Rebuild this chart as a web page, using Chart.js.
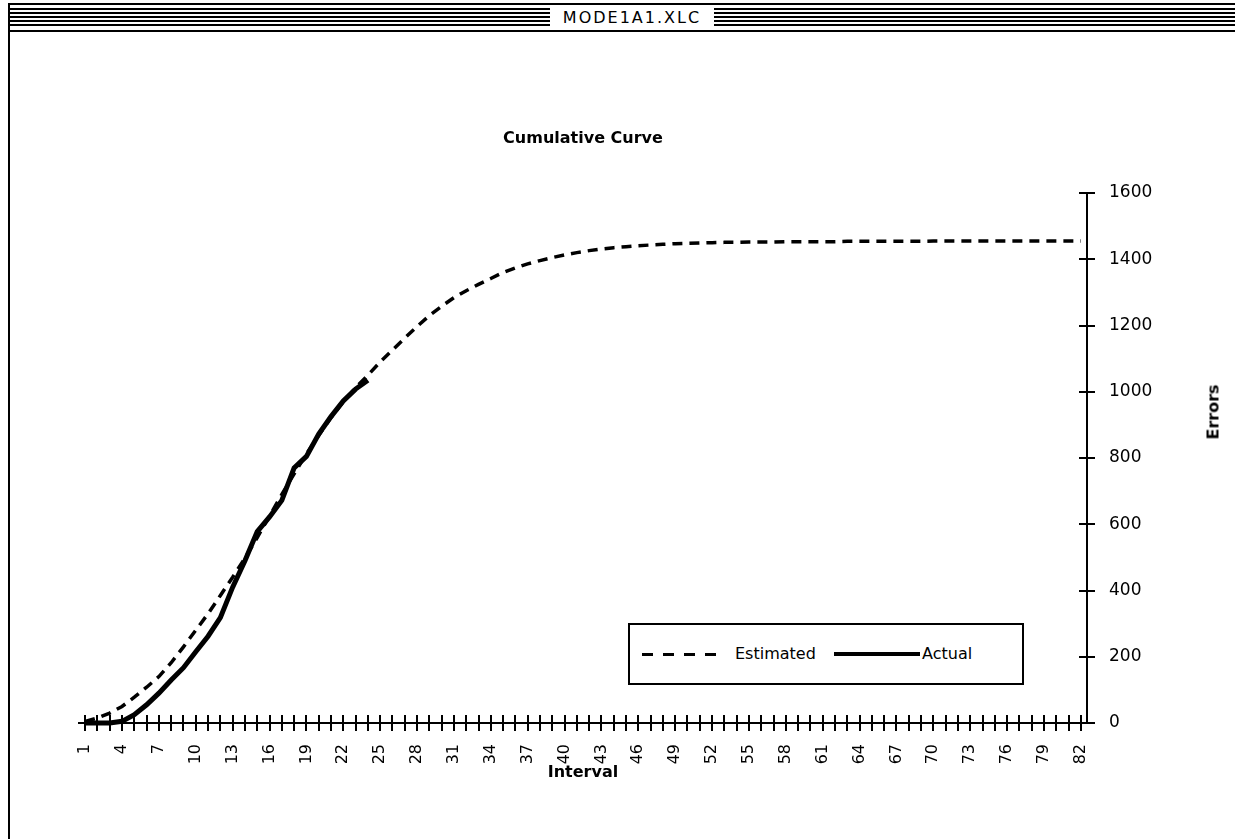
<!DOCTYPE html>
<html>
<head>
<meta charset="utf-8">
<title>MODE1A1.XLC</title>
<script src="https://cdn.jsdelivr.net/npm/chart.js@4.4.0/dist/chart.umd.min.js"></script>
<style>
body { margin:0; width:1235px; height:839px; overflow:hidden; background:#fff; position:relative; font-family:"DejaVu Sans", sans-serif; color:#000; }
#frame { position:absolute; left:8px; top:3px; width:1240px; height:840px; border-left:2px solid #000; border-top:2px solid #000; }
#bar { position:absolute; left:10px; top:8px; width:1225px; height:20px; background:repeating-linear-gradient(to bottom, #000 0, #000 2px, #fff 2px, #fff 4px); }
#barline { position:absolute; left:10px; top:30px; width:1225px; height:2px; background:#000; }
#wintitle { position:absolute; left:550px; top:5px; width:164px; height:25px; background:#fff; text-align:center; line-height:25px; font-size:16px; letter-spacing:2px; }
#chart { position:absolute; left:0; top:0; }
#title { position:absolute; left:383px; width:400px; top:128px; text-align:center; font-weight:bold; font-size:16px; }
#ytitle { position:absolute; left:1213px; top:412px; transform:translate(-50%,-50%) rotate(-90deg); font-weight:bold; font-size:16px; }
#legend { position:absolute; left:628px; top:623px; width:392px; height:58px; border:2px solid #000; background:#fff; font-size:16px; }
#legend .dash { position:absolute; left:12px; top:28px; width:74px; height:3px; background:repeating-linear-gradient(to right, #000 0, #000 11px, #fff 11px, #fff 21px); }
#legend .solid { position:absolute; left:204px; top:27px; width:86px; height:4px; background:#000; }
#legend .t1 { position:absolute; left:105px; top:19px; }
#legend .t2 { position:absolute; left:292px; top:19px; }
</style>
</head>
<body>
<div id="frame"></div>
<div id="bar"></div>
<div id="barline"></div>
<div id="wintitle">MODE1A1.XLC</div>
<canvas id="chart" width="1235" height="839"></canvas>
<div id="title">Cumulative Curve</div>
<div id="ytitle">Errors</div>
<div id="legend">
  <div class="dash"></div><span class="t1">Estimated</span>
  <div class="solid"></div><span class="t2">Actual</span>
</div>
<script>
// categories (interval numbers)
const intervals = ['1','2','3','4','5','6','7','8','9','10','11','12','13','14','15','16','17','18','19','20',
  '21','22','23','24','25','26','27','28','29','30','31','32','33','34','35','36','37','38','39','40',
  '41','42','43','44','45','46','47','48','49','50','51','52','53','54','55','56','57','58','59','60',
  '61','62','63','64','65','66','67','68','69','70','71','72','73','74','75','76','77','78','79','80',
  '81','82'];

// labels that are printed under the axis
const shownLabels = ['1','4','7','10','13','16','19','22','25','28','31','34','37','40','43','46','49','52',
  '55','58','61','64','67','70','73','76','79','82'];

const errorTicks = [0, 200, 400, 600, 800, 1000, 1200, 1400, 1600];

const estimated = [5, 15, 30, 50, 78, 108, 140, 182, 230, 280, 330, 385, 440, 498, 560, 625, 690, 752, 812, 868,
  922, 970, 1012, 1050, 1090, 1126, 1162, 1197, 1230, 1258, 1284, 1305, 1324, 1342, 1360, 1374, 1386, 1396, 1405, 1413,
  1420, 1426, 1431, 1435, 1438, 1441, 1443, 1445, 1447, 1448, 1449, 1450, 1451, 1451, 1452, 1452, 1452, 1453, 1453, 1453,
  1453, 1453, 1454, 1454, 1454, 1454, 1454, 1454, 1454, 1455, 1455, 1455, 1455, 1455, 1455, 1455, 1455, 1455, 1455, 1455,
  1455, 1455];

const actual = [0, 0, 0, 5, 25, 55, 90, 130, 167, 215, 262, 318, 410, 490, 578, 622, 672, 770, 805, 872,
  925, 972, 1008, 1035];

// ticks crossing the axes, like the original
const crossTicks = {
  id: 'crossTicks',
  beforeDatasetsDraw(c) {
    const ctx = c.ctx, xs = c.scales.x, ys = c.scales.y, a = c.chartArea;
    ctx.save();
    ctx.strokeStyle = '#000';
    ctx.lineWidth = 2;
    ctx.beginPath();
    xs.ticks.forEach((t, i) => {
      const px = Math.round(xs.getPixelForTick(i));
      ctx.moveTo(px, a.bottom - 8);
      ctx.lineTo(px, a.bottom);
    });
    ys.ticks.forEach((t, i) => {
      const py = Math.round(ys.getPixelForTick(i));
      ctx.moveTo(a.right - 8, py);
      ctx.lineTo(a.right, py);
    });
    ctx.stroke();
    ctx.restore();
  }
};

Chart.defaults.font.family = '"DejaVu Sans", sans-serif';
Chart.defaults.color = '#000';

const chart = new Chart(document.getElementById('chart'), {
  type: 'line',
  data: {
    labels: intervals,
    datasets: [
      { label: 'Actual', data: actual, borderColor: '#000', borderWidth: 5, pointRadius: 0, tension: 0, fill: false, clip: 8 },
      { label: 'Estimated', data: estimated, borderColor: '#000', borderWidth: 3.5, borderDash: [10, 7], pointRadius: 0, tension: 0, fill: false, clip: 8 }
    ]
  },
  options: {
    responsive: false,
    animation: false,
    layout: { padding: { left: 79, top: 193, right: 0, bottom: 53 } },
    plugins: { legend: { display: false }, title: { display: false }, tooltip: { enabled: false } },
    scales: {
      x: {
        offset: true,
        grid: { offset: false, drawOnChartArea: false, color: '#000', lineWidth: 2, tickLength: 8 },
        border: { display: true, color: '#000', width: 2 },
        ticks: {
          autoSkip: false, minRotation: 90, maxRotation: 90, padding: 13,
          font: { size: 16 },
          callback: function (v) {
            const l = this.getLabelForValue(v);
            return shownLabels.includes(l) ? l : '';
          }
        },
        title: { display: true, text: 'Interval', font: { size: 16, weight: 'bold' }, padding: { top: 0, bottom: 4 } },
        afterFit: s => { s.height = 63; }
      },
      y: {
        position: 'right',
        min: 0,
        max: 1600,
        afterBuildTicks: s => { s.ticks = errorTicks.map(v => ({ value: v })); },
        grid: { drawOnChartArea: false, color: '#000', lineWidth: 2, tickLength: 8 },
        border: { display: true, color: '#000', width: 2 },
        ticks: { padding: 14, font: { size: 17 }, callback: v => String(v) },
        afterFit: s => { s.width = 148; }
      }
    }
  },
  plugins: [crossTicks]
});
</script>
</body>
</html>
